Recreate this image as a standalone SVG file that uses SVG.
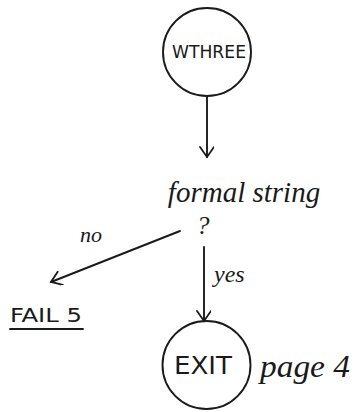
<svg xmlns="http://www.w3.org/2000/svg" width="361" height="412" viewBox="0 0 361 412">
<defs>
<marker id="arr" markerWidth="16" markerHeight="16" refX="11" refY="7" orient="auto" markerUnits="userSpaceOnUse">
<path d="M1,0 L11,7 L1,14" fill="none" stroke="#1a1a1a" stroke-width="1.8" stroke-linecap="round"/>
</marker>
</defs>
<style>
.ln{fill:none;stroke:#1a1a1a;stroke-width:1.9;stroke-linecap:round}
.cap{font-family:"DejaVu Sans Condensed","DejaVu Sans",sans-serif;fill:#1a1a1a}
.hand{font-family:"Liberation Serif",serif;font-style:italic;fill:#1a1a1a}
</style>
<rect width="361" height="412" fill="#ffffff"/>
<g id="connectors">
<line class="ln" x1="180" y1="231" x2="51" y2="282" marker-end="url(#arr)"/>
<line class="ln" x1="207" y1="96" x2="207" y2="157" marker-end="url(#arr)"/>
<line class="ln" x1="204" y1="247" x2="204" y2="321" marker-end="url(#arr)"/>
<text class="hand" x="80" y="242" font-size="22">no</text>
<text class="hand" x="214" y="282" font-size="24">yes</text>
</g>
<g id="wthree">
<circle class="ln" cx="207" cy="52" r="44"/>
<text class="cap" x="209" y="58" font-size="17" text-anchor="middle" textLength="74" lengthAdjust="spacingAndGlyphs">WTHREE</text>
</g>
<g id="decision">
<text class="hand" x="244" y="202" font-size="29" text-anchor="middle">formal string</text>
<text class="hand" x="203" y="234" font-size="26" text-anchor="middle">?</text>
</g>
<g id="fail5">
<text class="cap" x="10" y="322" font-size="20" textLength="72" lengthAdjust="spacingAndGlyphs">FAIL 5</text>
<line class="ln" x1="10" y1="329" x2="83" y2="329" stroke-width="1.4"/>
</g>
<g id="exit">
<circle class="ln" cx="206.5" cy="365" r="44"/>
<text class="cap" x="203" y="374" font-size="24" text-anchor="middle" textLength="58" lengthAdjust="spacingAndGlyphs">EXIT</text>
<text class="hand" x="260" y="377" font-size="31" textLength="90" lengthAdjust="spacingAndGlyphs">page 4</text>
</g>
</svg>
